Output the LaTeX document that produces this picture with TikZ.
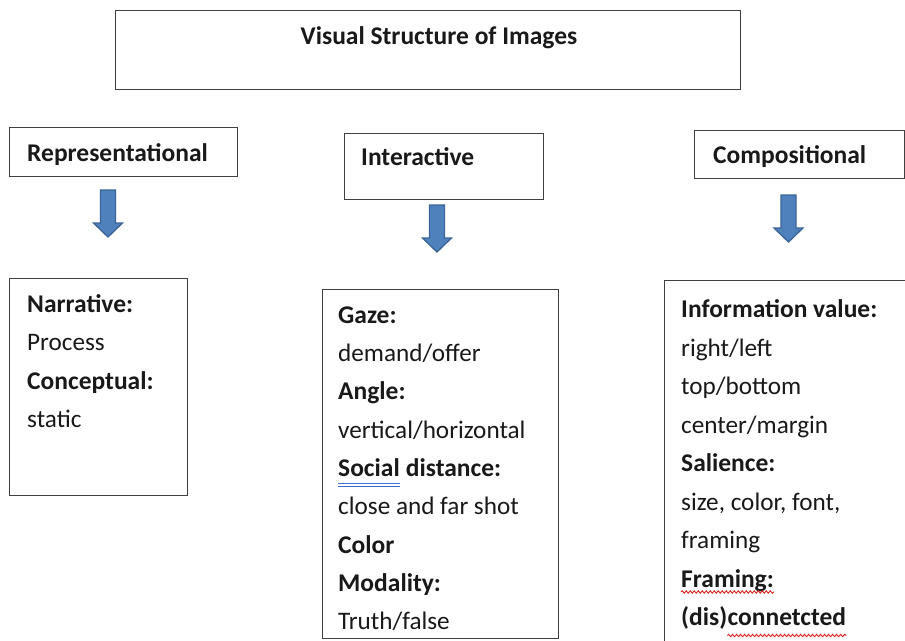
\documentclass[tikz,border=0pt]{standalone}
\usepackage{fontspec}
\setmainfont{Carlito}
\usetikzlibrary{decorations.pathmorphing}
\definecolor{boxgray}{HTML}{404040}
\definecolor{arrowfill}{HTML}{4F81BD}
\definecolor{arrowdraw}{HTML}{3A6596}
\definecolor{gramblue}{HTML}{3C6FD0}
\definecolor{spellred}{HTML}{E02020}
\begin{document}
\begin{tikzpicture}[x=1pt,y=-1pt,
  box/.style={draw=boxgray, line width=1.4pt, inner sep=0pt, anchor=north west},
  lbl/.style={anchor=base west, inner sep=0pt, font=\fontsize{25.2}{29}\selectfont, text=black!90},
  hd/.style={lbl, font=\fontsize{25.5}{29}\selectfont\bfseries},
  arrowstyle/.style={fill=arrowfill, draw=arrowdraw, line width=1.3pt, line join=miter},
  blockarrow/.pic={\path[arrowstyle] (-7.5,0) -- (7.5,0) -- (7.5,33) -- (14.5,33) -- (0,47) -- (-14.5,33) -- (-7.5,33) -- cycle;},
  spell/.style={draw=spellred, line width=0.9pt, decorate, decoration={snake, amplitude=1.2pt, segment length=4pt}},
  gram/.style={draw=gramblue, line width=0.9pt}]
\useasboundingbox (0,0) rectangle (905,640);
\clip (0,0) rectangle (905,640);
\fill[white] (0,0) rectangle (905,640);

% title
\node[box, minimum width=625pt, minimum height=79pt] (title) at (115,9.5) {};
\node[hd, anchor=base] (titletext) at (439,44) {Visual Structure of Images};

% header boxes
\node[box, minimum width=228pt, minimum height=49pt] (repbox) at (9,127) {};
\node[hd] (reptext) at (27,161) {Representational};
\node[box, minimum width=199pt, minimum height=66pt] (intbox) at (344,133) {};
\node[hd] (inttext) at (361,165) {Interactive};
\node[box, minimum width=210pt, minimum height=48pt] (compbox) at (694,130) {};
\node[hd] (comptext) at (713,163) {Compositional};

% arrows
\pic (arr1) at (108,190) {blockarrow};
\pic (arr2) at (437,205) {blockarrow};
\pic (arr3) at (788.5,195) {blockarrow};

% content box 1
\node[box, minimum width=178pt, minimum height=217pt] (narbox) at (9,278) {};
\node[hd]  (n1) at (27,312.5) {Narrative:};
\node[lbl] (n2) at (27,350.8) {Process};
\node[hd]  (n3) at (27,389.1) {Conceptual:};
\node[lbl] (n4) at (27,427.4) {static};

% content box 2
\node[box, minimum width=236pt, minimum height=349pt] (gazebox) at (322,289) {};
\node[hd]  (g1) at (338,323.2) {Gaze:};
\node[lbl] (g2) at (338,361.5) {demand/offer};
\node[hd]  (g3) at (338,399.8) {Angle:};
\node[lbl] (g4) at (338,438.1) {vertical/horizontal};
\node[hd]  (g5a) at (338,476.4) {Social};
\node[hd]  (g5b) at (g5a.base east) {\ distance:};
\node[lbl] (g6) at (338,514.7) {close and far shot};
\node[hd]  (g7) at (338,553.0) {Color};
\node[hd]  (g8) at (338,591.3) {Modality:};
\node[lbl] (g9) at (338,629.6) {Truth/false};
\draw[gram] ([yshift=-7pt]g5a.base west) -- ([yshift=-7pt]g5a.base east);
\draw[gram] ([yshift=-10pt]g5a.base west) -- ([yshift=-10pt]g5a.base east);

% content box 3
\node[box, minimum width=260pt, minimum height=400pt] (infobox) at (664,280) {};
\node[hd]  (c1) at (681,317.5) {Information value:};
\node[lbl] (c2) at (681,356.0) {right/left};
\node[lbl] (c3) at (681,394.5) {top/bottom};
\node[lbl] (c4) at (681,433.0) {center/margin};
\node[hd]  (c5) at (681,471.5) {Salience:};
\node[lbl] (c6) at (681,510.0) {size, color, font,};
\node[lbl] (c7) at (681,548.5) {framing};
\node[hd]  (c8) at (681,587.0) {Framing:};
\node[hd]  (c9a) at (681,625.5) {(dis)};
\node[hd]  (c9b) at (c9a.base east) {connetcted};
\draw[spell] ([yshift=-5pt]c8.base west) -- ([yshift=-5pt]c8.base east);
\draw[spell] ([yshift=-10pt]c9b.base west) -- ([yshift=-10pt]c9b.base east);
\end{tikzpicture}
\end{document}
